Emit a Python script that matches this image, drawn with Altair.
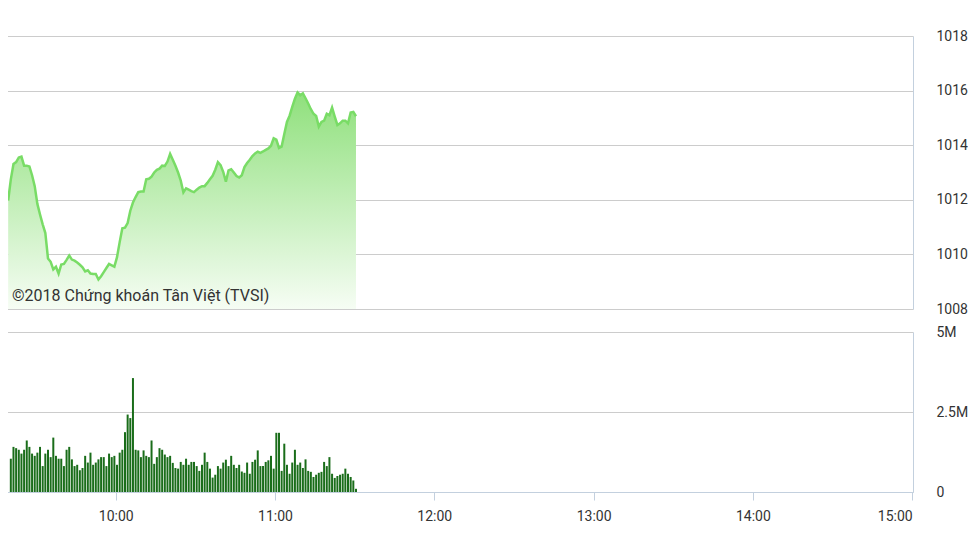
import altair as alt
import pandas as pd

# ---- data (VN-Index intraday, 1-minute) ----
price = [
    1011.97, 1012.75, 1013.31, 1013.38, 1013.55, 1013.58, 1013.25, 1013.25, 1013.22, 1012.90,
    1012.50, 1011.85, 1011.46, 1011.10, 1010.78, 1009.85, 1009.73, 1009.45, 1009.55, 1009.30,
    1009.63, 1009.65, 1009.80, 1009.96, 1009.81, 1009.77, 1009.70, 1009.62, 1009.53, 1009.38,
    1009.42, 1009.30, 1009.28, 1009.28, 1009.08, 1009.20, 1009.35, 1009.50, 1009.65, 1009.60,
    1009.55, 1009.90, 1010.45, 1010.96, 1010.98, 1011.15, 1011.60, 1011.90, 1012.10, 1012.28,
    1012.30, 1012.30, 1012.75, 1012.77, 1012.85, 1013.00, 1013.10, 1013.14, 1013.25, 1013.24,
    1013.40, 1013.68, 1013.47, 1013.25, 1013.00, 1012.70, 1012.27, 1012.42, 1012.37, 1012.32,
    1012.28, 1012.37, 1012.45, 1012.50, 1012.50, 1012.62, 1012.75, 1012.88, 1013.10, 1013.38,
    1013.27, 1013.02, 1012.66, 1013.08, 1013.12, 1013.00, 1012.87, 1012.82, 1012.90, 1013.20,
    1013.35, 1013.47, 1013.60, 1013.70, 1013.76, 1013.72, 1013.77, 1013.83, 1013.88, 1013.98,
    1014.25, 1014.20, 1013.90, 1013.95, 1014.41, 1014.85, 1015.08, 1015.40, 1015.70, 1015.93,
    1015.83, 1015.90, 1015.72, 1015.53, 1015.32, 1015.15, 1015.07, 1014.68, 1014.85, 1014.90,
    1015.15, 1015.10, 1015.38, 1015.05, 1014.74, 1014.80, 1014.90, 1014.90, 1014.80, 1015.20,
    1015.22, 1015.06,
]

volume_m = [
    1.04, 1.41, 1.37, 1.32, 1.20, 1.32, 1.61, 1.41, 1.20, 1.13,
    1.23, 1.41, 0.81, 1.20, 1.32, 1.09, 1.70, 1.13, 1.04, 1.04,
    0.81, 1.32, 1.41, 1.02, 0.81, 0.85, 0.68, 0.75, 1.13, 0.92,
    1.23, 0.85, 0.92, 1.02, 1.09, 1.09, 0.81, 1.20, 1.09, 1.13,
    0.85, 1.23, 1.32, 1.87, 2.42, 2.31, 3.56, 1.32, 1.30, 1.09,
    1.30, 1.13, 1.09, 1.61, 0.88, 1.09, 1.37, 1.32, 1.17, 1.09,
    1.13, 0.91, 0.75, 0.73,
    0.94, 0.85, 1.04, 0.85, 0.94, 0.94, 0.81, 0.66, 0.85, 1.23,
    0.94, 0.73, 0.45, 0.54, 0.81, 0.73, 0.92, 1.01, 0.81, 1.13,
    0.85, 0.75, 0.85, 0.64, 0.60, 0.92, 0.57, 0.94, 1.01, 1.30,
    0.81, 0.81, 0.94, 0.99, 1.13, 0.73, 1.85, 1.85, 0.66, 1.51,
    0.85, 0.57, 0.92, 1.32, 0.85, 0.92, 0.75, 1.02, 0.66, 0.63,
    0.47, 0.54, 0.60, 0.63, 0.94, 0.81, 1.09, 0.57, 0.44, 0.50,
    0.54, 0.57, 0.73, 0.57, 0.47, 0.36, 0.10,
]

price_ticks = [1008, 1010, 1012, 1014, 1016, 1018]
volume_ticks = [0, 2500000, 5000000]
hour_ticks = [600, 660, 720, 780, 840, 900]          # 10:00 ... 15:00 (minutes)
x_domain = [559.06, 900.3]                          # visible time window (minutes)
start_minute = 9 * 60 + 19.5
copyright_text = "©2018 Chứng khoán Tân Việt (TVSI)"

minutes = [start_minute + i for i in range(len(price))]
price_df = pd.DataFrame({"t": minutes, "price": price})
vol_df = pd.DataFrame({"t": minutes[1:len(volume_m) + 1], "vol": [v * 1e6 for v in volume_m]})
txt_df = pd.DataFrame({"label": [copyright_text]})

W = 906
AXIS_COLOR = "#c3d0de"
LABEL_COLOR = "#333333"

xscale = alt.Scale(domain=x_domain, nice=False, zero=False, padding=0)

price_y = alt.Y(
    "price:Q",
    scale=alt.Scale(domain=[1008, 1018], nice=False, zero=False),
    axis=alt.Axis(orient="right", values=price_ticks, ticks=False, title=None, format="d",
                  labelPadding=23, domainColor=AXIS_COLOR, labelFontSize=14,
                  labelColor=LABEL_COLOR, labelFont="Roboto"),
)

area = alt.Chart(price_df).mark_area(
    color=alt.Gradient(
        gradient="linear",
        stops=[alt.GradientStop(color="#f6fdf4", offset=0),
               alt.GradientStop(color="#8fe07c", offset=1)],
        x1=1, x2=1, y1=1, y2=0,
    ),
    interpolate="linear",
).encode(
    x=alt.X("t:Q", scale=xscale, axis=None),
    y=price_y,
    y2=alt.datum(1008),
)

line = alt.Chart(price_df).mark_line(color="#79dc66", strokeWidth=2.5).encode(
    x=alt.X("t:Q", scale=xscale, axis=None),
    y=alt.Y("price:Q"),
)

label = alt.Chart(txt_df).mark_text(
    align="left", baseline="middle", fontSize=16, font="Roboto", color="#333333"
).encode(
    x=alt.value(5), y=alt.value(260), text="label:N"
)

price_chart = alt.layer(area, line, label).properties(width=W, height=273)

bars = alt.Chart(vol_df).mark_bar(color="#1a6d1a", size=2).encode(
    x=alt.X(
        "t:Q", scale=xscale, title=None,
        axis=alt.Axis(values=hour_ticks, grid=False, domainColor=AXIS_COLOR,
                      tickColor=AXIS_COLOR, tickSize=8, labelPadding=9,
                      labelExpr="floor(datum.value / 60) + ':00'",
                      labelFontSize=14, labelColor=LABEL_COLOR, labelFont="Roboto"),
    ),
    y=alt.Y(
        "vol:Q", scale=alt.Scale(domain=[0, 5000000], nice=False), title=None,
        axis=alt.Axis(orient="right", values=volume_ticks, ticks=False,
                      labelPadding=23, domainColor=AXIS_COLOR, labelFontSize=14,
                      labelColor=LABEL_COLOR, labelFont="Roboto",
                      labelExpr="datum.value == 0 ? '0' : (datum.value / 1000000) + 'M'"),
    ),
).properties(width=W, height=160)

chart = alt.vconcat(price_chart, bars, spacing=23, bounds="flush").properties(
    padding={"left": -5, "top": 21, "right": 0, "bottom": 0}
).configure_view(stroke=None).configure_axis(
    gridColor="#cccccc", gridWidth=1
)

chart.save("out.html", embed_options={"renderer": "svg", "actions": False})
